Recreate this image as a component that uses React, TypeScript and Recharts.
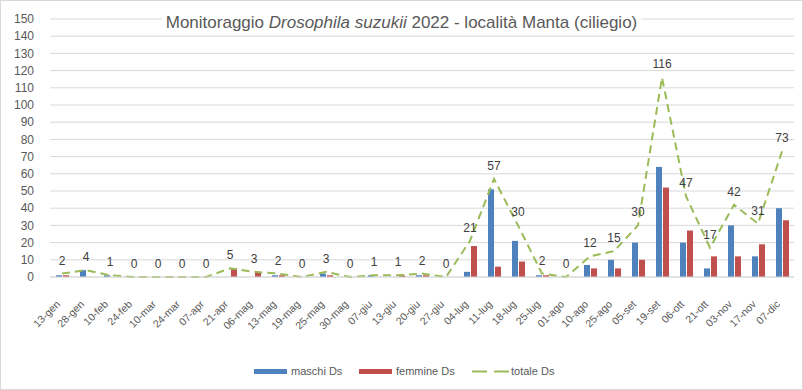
import React from 'react';
import { ComposedChart, Bar, Line, XAxis, YAxis, CartesianGrid, Legend, LabelList } from 'recharts';

const categories = ['13-gen','28-gen','10-feb','24-feb','10-mar','24-mar','07-apr','21-apr','06-mag','13-mag','19-mag','25-mag','30-mag','07-giu','13-giu','20-giu','27-giu','04-lug','11-lug','18-lug','25-lug','01-ago','10-ago','25-ago','05-set','19-set','06-ott','21-ott','03-nov','17-nov','07-dic'];
const maschi = [1,4,1,0,0,0,0,0,0,1,0,2,0,1,0,1,0,3,51,21,1,0,7,10,20,64,20,5,30,12,40];
const femmine = [1,0,0,0,0,0,0,5,3,1,0,1,0,0,1,1,0,18,6,9,1,0,5,5,10,52,27,12,12,19,33];
const totale = [2,4,1,0,0,0,0,5,3,2,0,3,0,1,1,2,0,21,57,30,2,0,12,15,30,116,47,17,42,31,73];
const yTicks = [0,10,20,30,40,50,60,70,80,90,100,110,120,130,140,150];

const data = categories.map((c, i) => ({ cat: c, maschi: maschi[i], femmine: femmine[i], totale: totale[i] }));

const FONT = '"Liberation Sans", Arial, sans-serif';
const BLUE = '#4F81BD';
const RED = '#C0504D';
const GREEN = '#9BBB59';

const XTick = (props: any) => {
  const { x, y, payload } = props;
  return (
    <g transform={`translate(${x - 4},${y + 17})`}>
      <text x={0} y={0} dy={4} textAnchor="end" transform="rotate(-45)" fontSize={10.5} fill="#595959" fontFamily={FONT}>
        {payload.value}
      </text>
    </g>
  );
};

const LegendContent = (props: any) => {
  const payload = props.payload || [];
  const find = (k: string) => payload.find((p: any) => p.dataKey === k) || { value: k, color: '#000' };
  const m = find('maschi');
  const f = find('femmine');
  const t = find('totale');
  const txt: React.CSSProperties = { position: 'absolute', top: 0, fontSize: 11, lineHeight: '16px', color: '#595959', fontFamily: FONT, whiteSpace: 'nowrap' };
  return (
    <div style={{ position: 'relative', height: 16, width: '100%' }}>
      <div style={{ position: 'absolute', left: 254, top: 6, width: 33, height: 5, background: m.color }} />
      <div style={{ ...txt, left: 291 }}>{m.value}</div>
      <div style={{ position: 'absolute', left: 359, top: 6, width: 33, height: 5, background: f.color }} />
      <div style={{ ...txt, left: 396 }}>{f.value}</div>
      <svg style={{ position: 'absolute', left: 472, top: 0 }} width={37} height={16}>
        <line x1={0} y1={8.5} x2={37} y2={8.5} stroke={t.color} strokeWidth={2} strokeDasharray="15 7" />
      </svg>
      <div style={{ ...txt, left: 511 }}>{t.value}</div>
    </div>
  );
};

export default function App() {
  return (
    <div style={{ position: 'absolute', left: 0, top: 0, width: 803, height: 390, background: '#fff' }}>
      <div style={{ position: 'absolute', left: 0, top: 0, width: 801, height: 388, border: '1px solid #d9d9d9' }} />
      <ComposedChart
        width={803}
        height={390}
        data={data}
        margin={{ top: 19, right: 9, left: 0, bottom: 11 }}
        barSize={6}
        barGap={1}
        style={{ fontFamily: FONT }}
      >
        <CartesianGrid vertical={false} stroke="#d9d9d9" />
        <XAxis
          dataKey="cat"
          interval={0}
          height={86}
          tickLine={false}
          axisLine={{ stroke: '#d9d9d9' }}
          tick={<XTick />}
        />
        <YAxis
          width={50}
          domain={[0, 150]}
          ticks={yTicks}
          interval={0}
          tickLine={false}
          axisLine={false}
          tick={{ fontSize: 12, fill: '#595959', fontFamily: FONT }}
          tickMargin={10}
        />
        <Legend verticalAlign="bottom" content={<LegendContent />} />
        <Bar dataKey="maschi" name="maschi Ds" fill={BLUE} isAnimationActive={false} />
        <Bar dataKey="femmine" name="femmine Ds" fill={RED} isAnimationActive={false} />
        <Line
          dataKey="totale"
          name="totale Ds"
          type="linear"
          stroke={GREEN}
          strokeWidth={2}
          strokeDasharray="8 5"
          dot={false}
          activeDot={false}
          isAnimationActive={false}
        >
          <LabelList dataKey="totale" position="top" offset={9} fontSize={12} fill="#404040" fontFamily={FONT} />
        </Line>
      </ComposedChart>
      <div
        style={{
          position: 'absolute',
          top: 12,
          left: 0,
          width: 803,
          textAlign: 'center',
          pointerEvents: 'none',
        }}
      >
        <span style={{ background: '#fff', padding: '0 4px', fontSize: 17, color: '#595959', fontFamily: FONT, lineHeight: '22px' }}>
          Monitoraggio <i>Drosophila suzukii</i> 2022 - località Manta (ciliegio)
        </span>
      </div>
    </div>
  );
}
